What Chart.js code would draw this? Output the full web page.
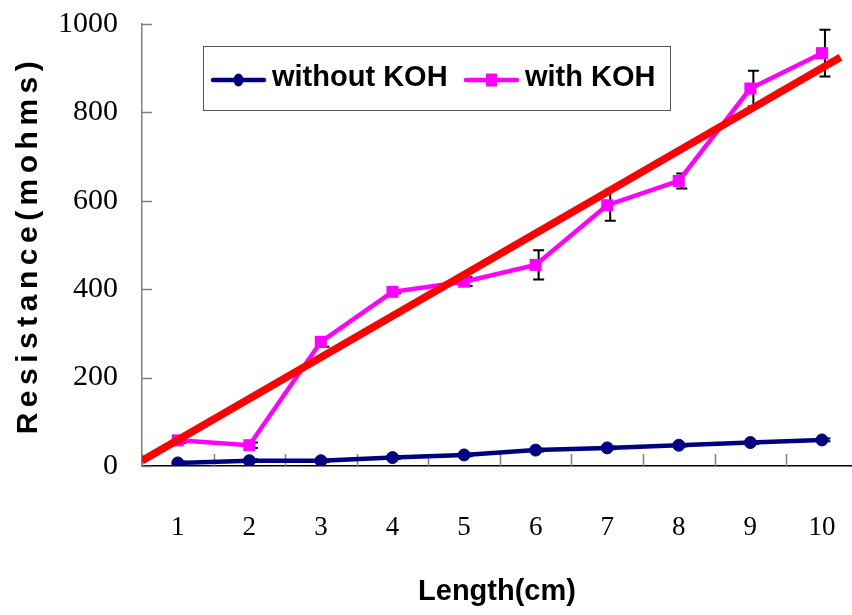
<!DOCTYPE html>
<html>
<head>
<meta charset="utf-8">
<script src="https://cdn.jsdelivr.net/npm/chart.js@4/dist/chart.umd.min.js"></script>
<style>
html,body{margin:0;padding:0;background:#fff;overflow:hidden;}
#wrap{width:852px;height:615px;}
</style>
</head>
<body>
<div id="wrap"><canvas id="c" width="852" height="615"></canvas></div>
<script>
// ---- data ----
const lengths = [1, 2, 3, 4, 5, 6, 7, 8, 9, 10];
const withoutKOH = [7, 12, 12, 19, 25, 36, 41, 47, 53, 59];
const withoutKOHErr = [3, 3, 3, 3, 3, 3, 3, 3, 3, 3];
const withKOH = [58, 47, 281, 394, 417, 455, 590, 645, 854, 934];
const withKOHErr = [6, 6, 11, 3, 10, 33, 35, 17, 40, 53];
const trendX = [0.5, 10.26];
const trendY = [12, 925];
const yTicks = [0, 200, 400, 600, 800, 1000];
const seriesNames = ['without KOH', 'with KOH'];

const NAVY = '#000080', MAGENTA = '#FF00FF', RED = '#FF0000';
const SERIF = "'Liberation Serif','Times New Roman',serif";
const SANS = "Arial,'Liberation Sans',sans-serif";

const toPts = (xs, ys) => xs.map((x, i) => ({x: x, y: ys[i]}));

const errorBars = {
  id: 'errorBars',
  beforeDatasetsDraw(chart) {
    const ctx = chart.ctx, xs = chart.scales.x, ys = chart.scales.y;
    const sets = [[withKOH, withKOHErr], [withoutKOH, withoutKOHErr]];
    ctx.save();
    ctx.strokeStyle = '#000';
    ctx.lineWidth = 2;
    sets.forEach(([vals, errs]) => {
      vals.forEach((v, i) => {
        const px = xs.getPixelForValue(lengths[i]) + 3;
        const t = ys.getPixelForValue(v + errs[i]);
        const b = ys.getPixelForValue(v - errs[i]);
        ctx.beginPath();
        ctx.moveTo(px, t); ctx.lineTo(px, b);
        ctx.moveTo(px - 5.5, t); ctx.lineTo(px + 5.5, t);
        ctx.moveTo(px - 5.5, b); ctx.lineTo(px + 5.5, b);
        ctx.stroke();
      });
    });
    ctx.restore();
  }
};

const innerTicks = {
  id: 'innerTicks',
  beforeDatasetsDraw(chart) {
    const ctx = chart.ctx, xs = chart.scales.x, ys = chart.scales.y, a = chart.chartArea;
    ctx.save();
    ctx.strokeStyle = '#808080';
    ctx.lineWidth = 1.5;
    ctx.beginPath();
    yTicks.forEach(v => {
      const py = Math.round(ys.getPixelForValue(v)) + 0.5;
      ctx.moveTo(a.left, py); ctx.lineTo(a.left + 10, py);
    });
    for (let k = 0; k <= lengths.length; k++) {
      const v = lengths[0] - 0.5 + k;
      const px = Math.round(xs.getPixelForValue(v)) + 0.5;
      if (px > a.right) continue;
      ctx.moveTo(px, a.bottom); ctx.lineTo(px, a.bottom - 12);
    }
    ctx.stroke();
    ctx.restore();
  }
};

const boxLegend = {
  id: 'boxLegend',
  afterDraw(chart) {
    const ctx = chart.ctx, a = chart.chartArea;
    const bx = a.left + 61, by = a.top + 22, bw = 467, bh = 64;
    ctx.save();
    ctx.fillStyle = '#fff';
    ctx.fillRect(bx, by, bw, bh);
    ctx.strokeStyle = '#555';
    ctx.lineWidth = 1;
    ctx.strokeRect(bx + 0.5, by + 0.5, bw, bh);
    const cy = by + 34;
    const entries = [
      {x: bx + 10, color: NAVY, style: 'circle', text: seriesNames[0]},
      {x: bx + 263, color: MAGENTA, style: 'rect', text: seriesNames[1]}
    ];
    entries.forEach(e => {
      ctx.strokeStyle = e.color;
      ctx.lineWidth = 4.5;
      ctx.lineCap = 'round';
      ctx.beginPath();
      ctx.moveTo(e.x, cy); ctx.lineTo(e.x + 51, cy);
      ctx.stroke();
      ctx.fillStyle = e.color;
      if (e.style === 'circle') {
        ctx.beginPath();
        ctx.ellipse(e.x + 25.5, cy, 5, 6.5, 0, 0, Math.PI * 2);
        ctx.fill();
      } else {
        ctx.fillRect(e.x + 25.5 - 5.5, cy - 6.5, 11, 13);
      }
      ctx.fillStyle = '#000';
      ctx.font = 'bold 29px ' + SANS;
      ctx.textBaseline = 'middle';
      ctx.textAlign = 'left';
      ctx.fillText(e.text, e.x + 59, cy - 2);
    });
    ctx.restore();
  }
};

const spacedTitle = {
  id: 'spacedTitle',
  afterLayout(chart) {
    const s = chart.scales.y;
    if (s && !s._spacedPatched) {
      const orig = s.drawTitle;
      s.drawTitle = function () {
        const ctx = this.ctx;
        ctx.save();
        ctx.letterSpacing = '5.5px';
        orig.apply(this, arguments);
        ctx.restore();
      };
      s._spacedPatched = true;
    }
  }
};

new Chart(document.getElementById('c'), {
  type: 'line',
  data: {
    datasets: [
      {
        label: 'trend',
        data: toPts(trendX, trendY),
        borderColor: RED,
        backgroundColor: RED,
        borderWidth: 7.5,
        borderCapStyle: 'butt',
        pointRadius: 0,
        fill: false
      },
      {
        label: seriesNames[1],
        data: toPts(lengths, withKOH),
        borderColor: MAGENTA,
        backgroundColor: MAGENTA,
        borderWidth: 4.5,
        pointStyle: 'rect',
        pointRadius: 8.5,
        pointBorderWidth: 0,
        fill: false
      },
      {
        label: seriesNames[0],
        data: toPts(lengths, withoutKOH),
        borderColor: NAVY,
        backgroundColor: NAVY,
        borderWidth: 4.5,
        pointStyle: 'circle',
        pointRadius: 6,
        pointBorderWidth: 1,
        fill: false
      }
    ]
  },
  options: {
    responsive: false,
    animation: false,
    devicePixelRatio: 1,
    layout: {autoPadding: false, padding: {left: 0, top: 24, right: 0, bottom: 0}},
    plugins: {legend: {display: false}, tooltip: {enabled: false}, title: {display: false}},
    scales: {
      x: {
        type: 'linear',
        min: 0.5,
        max: 10.42,
        afterBuildTicks: (s) => { s.ticks = lengths.map(v => ({value: v})); },
        afterFit: (s) => { s.height = 149; s.paddingLeft = 0; s.paddingRight = 0; s.paddingTop = 0; s.paddingBottom = 0; },
        ticks: {
          color: '#000',
          font: {family: SERIF, size: 27},
          padding: 46,
          maxRotation: 0,
          autoSkip: false,
          callback: (v) => String(v)
        },
        grid: {display: true, drawOnChartArea: false, drawTicks: false},
        border: {display: true, color: '#000', width: 1.5},
        title: {
          display: true,
          text: 'Length(cm)',
          color: '#000',
          font: {family: SANS, size: 29, weight: 'bold'},
          padding: {top: 0, bottom: 6}
        }
      },
      y: {
        type: 'linear',
        min: 0,
        max: 1000,
        afterBuildTicks: (s) => { s.ticks = yTicks.map(v => ({value: v})); },
        afterFit: (s) => { s.width = 142; s.paddingTop = 0; s.paddingBottom = 0; s.paddingLeft = 0; s.paddingRight = 0; },
        ticks: {
          color: '#000',
          font: {family: SERIF, size: 30},
          padding: 24,
          callback: (v) => String(v)
        },
        grid: {display: true, drawOnChartArea: false, drawTicks: false},
        border: {display: true, color: '#808080', width: 1.5},
        title: {
          display: true,
          text: 'Resistance(mohms)',
          color: '#000',
          font: {family: SANS, size: 30, weight: 'bold'},
          padding: {top: 11, bottom: 0}
        }
      }
    }
  },
  plugins: [errorBars, innerTicks, boxLegend, spacedTitle]
});
</script>
</body>
</html>
